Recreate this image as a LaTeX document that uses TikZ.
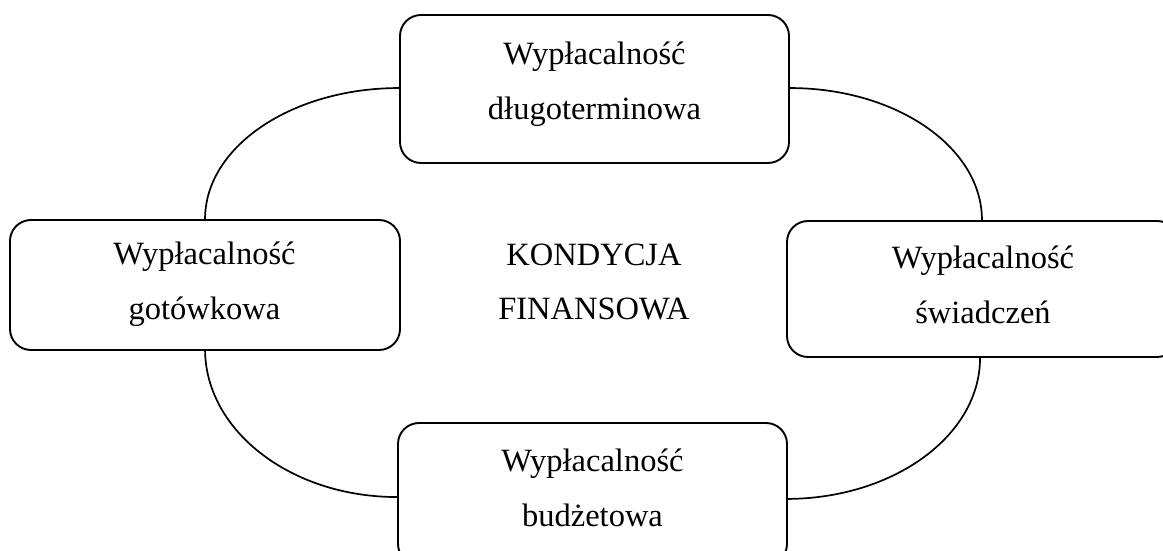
\documentclass[tikz,border=0pt]{standalone}
\usepackage{fontspec}
\setmainfont{Liberation Serif}
\begin{document}
\begin{tikzpicture}[x=1pt,y=1pt,
  stagebox/.style={draw, line width=1.9pt, rounded corners=21pt, fill=white, inner sep=0pt},
  stagetext/.style={align=center, inner sep=0pt, font=\fontsize{32.5}{55}\selectfont},
  ring/.style={line width=1.7pt}]
\useasboundingbox (0,0) rectangle (1163,551);
\clip (0,0) rectangle (1163,551);

% four solvency boxes placed around the centre
\node[stagebox, minimum width=389pt, minimum height=148pt] (T) at (594.5,462) {};
\node[stagebox, minimum width=390pt, minimum height=130pt] (G) at (205,266) {};
\node[stagebox, minimum width=391pt, minimum height=136pt] (R) at (982.5,262) {};
\node[stagebox, minimum width=389pt, minimum height=142pt] (B) at (592.5,57) {};

% ring linking the boxes
\draw[ring] ([xshift=196pt]G.north west) arc[start angle=180, end angle=90, x radius=194pt, y radius=131pt];
\draw[ring] ([yshift=-74pt]T.north east) arc[start angle=90, end angle=0, x radius=192pt, y radius=132pt];
\draw[ring] ([xshift=194pt]R.south west) arc[start angle=0, end angle=-90, x radius=194pt, y radius=141pt];
\draw[ring] ([yshift=-75pt]B.north west) arc[start angle=270, end angle=180, x radius=192pt, y radius=148pt];

% labels
\node[stagetext] (Tt) at (594.5,466.7) {Wypłacalność\\długoterminowa};
\node[stagetext] (Gt) at (204.5,266.7) {Wypłacalność\\gotówkowa};
\node[stagetext] (Rt) at (983,266.1) {Wypłacalność\\świadczeń};
\node[stagetext] (Bt) at (592.5,63.6) {Wypłacalność\\budżetowa};
\node[stagetext, font=\fontsize{32.5}{54}\selectfont] (K) at (594,269.2) {KONDYCJA\\FINANSOWA};
\end{tikzpicture}
\end{document}
